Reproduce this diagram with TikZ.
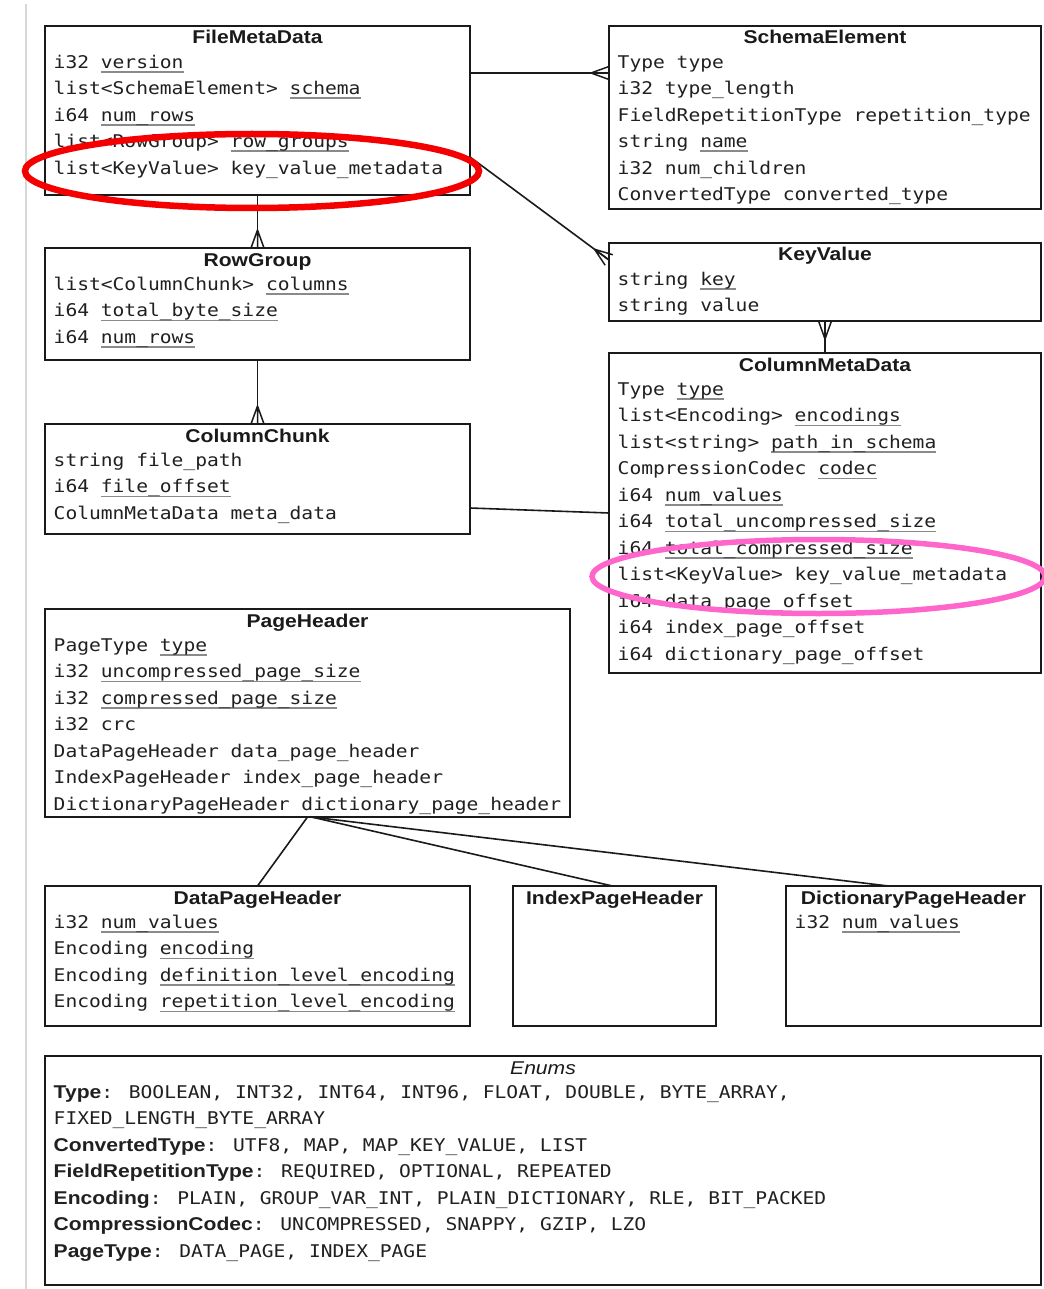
\documentclass[tikz,border=0pt]{standalone}
\usepackage{fontspec}
\usetikzlibrary{calc,decorations.markings}
\newfontfamily\monof[FakeStretch=1.12]{DejaVu Sans Mono}
\newfontfamily\headf[FakeStretch=1.14]{Liberation Sans}
\definecolor{ink}{HTML}{1A1A1A}
\definecolor{txt}{HTML}{202020}
\definecolor{ulgray}{HTML}{8A8A8A}
\definecolor{redmark}{HTML}{F50000}
\definecolor{pinkmark}{HTML}{FF66CC}
\definecolor{sidegray}{HTML}{D8D8D8}
\newsavebox\ulbx
\newcommand\uf[1]{\sbox\ulbx{#1}\rlap{\color{ulgray}\rule[-4.6pt]{\wd\ulbx}{1.9pt}}\usebox\ulbx}
\newcommand\ttl[2]{\node[titletext] (#1-t) at ($(#1.north)+(0,18)$) {#2};}
\newcommand\fieldrow[3]{\node[rowtext] (#1-r#2) at ($(#1.north west)+(8.5,{42.3+26.5*#2})$) {#3};}
\newcommand\bk[1]{{\headf\bfseries\fontsize{18.5}{20}\selectfont #1}}
\begin{document}
\begin{tikzpicture}[x=1pt,y=-1pt,
  box/.style={draw=ink, line width=2pt, rectangle, anchor=north west, outer sep=0pt, inner sep=0pt},
  titletext/.style={anchor=base, inner sep=0pt, text=ink, font=\headf\bfseries\fontsize{18.5}{20}\selectfont},
  rowtext/.style={anchor=base west, inner sep=0pt, text=txt, font=\monof\fontsize{17.5}{20}\selectfont},
  conn/.style={draw=ink, line width=1.6pt},
  crowend/.style={postaction={decorate,decoration={markings,mark=at position 1 with {\draw[ink,line width=1.5pt] (-18,0) -- (0,0) (-18,0) -- (0,6.5) (-18,0) -- (0,-6.5);}}}},
]
\useasboundingbox[fill=white] (0,0) rectangle (1043,1289);
\draw[sidegray, line width=1.5pt] (26,4) -- (26,1289);

% boxes
\node[box, minimum width=425pt, minimum height=169pt] (fmd) at (45,26) {};
\node[box, minimum width=432pt, minimum height=183pt] (schema) at (609,26) {};
\node[box, minimum width=432pt, minimum height=78pt] (kv) at (609,243) {};
\node[box, minimum width=432pt, minimum height=320pt] (cmd) at (609,353) {};
\node[box, minimum width=425pt, minimum height=112pt] (rg) at (45,248) {};
\node[box, minimum width=425pt, minimum height=110pt] (cc) at (45,424) {};
\node[box, minimum width=525pt, minimum height=208pt] (ph) at (45,609) {};
\node[box, minimum width=425pt, minimum height=140pt] (dph) at (45,886) {};
\node[box, minimum width=203pt, minimum height=140pt] (iph) at (513,886) {};
\node[box, minimum width=255pt, minimum height=140pt] (dcph) at (786,886) {};
\node[box, minimum width=996pt, minimum height=229pt] (enums) at (45,1056) {};

% FileMetaData
\ttl{fmd}{FileMetaData}
\fieldrow{fmd}{0}{i32 \uf{version}}
\fieldrow{fmd}{1}{list<SchemaElement> \uf{schema}}
\fieldrow{fmd}{2}{i64 \uf{num\_rows}}
\fieldrow{fmd}{3}{list<RowGroup> \uf{row\_groups}}
\fieldrow{fmd}{4}{list<KeyValue> key\_value\_metadata}

% SchemaElement
\ttl{schema}{SchemaElement}
\fieldrow{schema}{0}{Type type}
\fieldrow{schema}{1}{i32 type\_length}
\fieldrow{schema}{2}{FieldRepetitionType repetition\_type}
\fieldrow{schema}{3}{string \uf{name}}
\fieldrow{schema}{4}{i32 num\_children}
\fieldrow{schema}{5}{ConvertedType converted\_type}

% KeyValue
\ttl{kv}{KeyValue}
\fieldrow{kv}{0}{string \uf{key}}
\fieldrow{kv}{1}{string value}

% ColumnMetaData
\ttl{cmd}{ColumnMetaData}
\fieldrow{cmd}{0}{Type \uf{type}}
\fieldrow{cmd}{1}{list<Encoding> \uf{encodings}}
\fieldrow{cmd}{2}{list<string> \uf{path\_in\_schema}}
\fieldrow{cmd}{3}{CompressionCodec \uf{codec}}
\fieldrow{cmd}{4}{i64 \uf{num\_values}}
\fieldrow{cmd}{5}{i64 \uf{total\_uncompressed\_size}}
\fieldrow{cmd}{6}{i64 \uf{total\_compressed\_size}}
\fieldrow{cmd}{7}{list<KeyValue> key\_value\_metadata}
\fieldrow{cmd}{8}{i64 data\_page\_offset}
\fieldrow{cmd}{9}{i64 index\_page\_offset}
\fieldrow{cmd}{10}{i64 dictionary\_page\_offset}

% RowGroup
\ttl{rg}{RowGroup}
\fieldrow{rg}{0}{list<ColumnChunk> \uf{columns}}
\fieldrow{rg}{1}{i64 \uf{total\_byte\_size}}
\fieldrow{rg}{2}{i64 \uf{num\_rows}}

% ColumnChunk
\ttl{cc}{ColumnChunk}
\fieldrow{cc}{0}{string file\_path}
\fieldrow{cc}{1}{i64 \uf{file\_offset}}
\fieldrow{cc}{2}{ColumnMetaData meta\_data}

% PageHeader
\ttl{ph}{PageHeader}
\fieldrow{ph}{0}{PageType \uf{type}}
\fieldrow{ph}{1}{i32 \uf{uncompressed\_page\_size}}
\fieldrow{ph}{2}{i32 \uf{compressed\_page\_size}}
\fieldrow{ph}{3}{i32 crc}
\fieldrow{ph}{4}{DataPageHeader data\_page\_header}
\fieldrow{ph}{5}{IndexPageHeader index\_page\_header}
\fieldrow{ph}{6}{DictionaryPageHeader dictionary\_page\_header}

% DataPageHeader
\ttl{dph}{DataPageHeader}
\fieldrow{dph}{0}{i32 \uf{num\_values}}
\fieldrow{dph}{1}{Encoding \uf{encoding}}
\fieldrow{dph}{2}{Encoding \uf{definition\_level\_encoding}}
\fieldrow{dph}{3}{Encoding \uf{repetition\_level\_encoding}}

% IndexPageHeader
\ttl{iph}{IndexPageHeader}

% DictionaryPageHeader
\ttl{dcph}{DictionaryPageHeader}
\fieldrow{dcph}{0}{i32 \uf{num\_values}}

% Enums
\node[titletext, font=\headf\itshape\fontsize{18.5}{20}\selectfont] (enums-t) at ($(enums.north)+(0,18)$) {Enums};
\fieldrow{enums}{0}{\bk{Type}: BOOLEAN, INT32, INT64, INT96, FLOAT, DOUBLE, BYTE\_ARRAY,}
\fieldrow{enums}{1}{FIXED\_LENGTH\_BYTE\_ARRAY}
\fieldrow{enums}{2}{\bk{ConvertedType}: UTF8, MAP, MAP\_KEY\_VALUE, LIST}
\fieldrow{enums}{3}{\bk{FieldRepetitionType}: REQUIRED, OPTIONAL, REPEATED}
\fieldrow{enums}{4}{\bk{Encoding}: PLAIN, GROUP\_VAR\_INT, PLAIN\_DICTIONARY, RLE, BIT\_PACKED}
\fieldrow{enums}{5}{\bk{CompressionCodec}: UNCOMPRESSED, SNAPPY, GZIP, LZO}
\fieldrow{enums}{6}{\bk{PageType}: DATA\_PAGE, INDEX\_PAGE}

% connectors
\draw[conn, crowend] ([yshift=-47pt]fmd.north east) -- ([yshift=-47pt]schema.north west);
\draw[conn, crowend] ([yshift=-131pt]fmd.north east) -- ([yshift=-17pt]kv.north west);
\draw[conn, crowend] (fmd.south) -- (rg.north);
\draw[conn, crowend] (rg.south) -- (cc.north);
\draw[conn, crowend] (cmd.north) -- (kv.south);
\draw[conn] ([yshift=26pt]cc.south east) -- ([yshift=-160pt]cmd.north west);
\draw[conn] (ph.south) -- (dph.north);
\draw[conn] ([xshift=4pt]ph.south) -- ([xshift=-2pt]iph.north);
\draw[conn] ([xshift=4pt]ph.south) -- ([xshift=-25pt]dcph.north);

% highlight ellipses
\draw[redmark, line width=6.5pt] (252,171) ellipse [x radius=227pt, y radius=37pt];
\draw[pinkmark, line width=5.5pt] (818.5,576.5) ellipse [x radius=226.5pt, y radius=37pt];
\end{tikzpicture}
\end{document}
